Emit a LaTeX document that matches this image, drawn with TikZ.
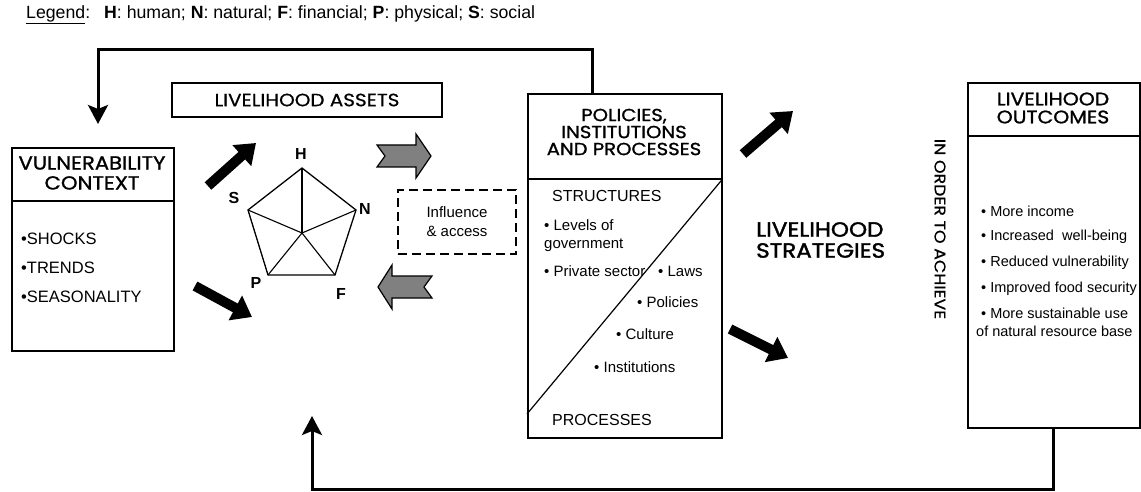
\documentclass[tikz,border=0pt]{standalone}
\usepackage{fontspec}
\setmainfont{Liberation Sans}
\newfontfamily\gothic{Poppins}
\newfontfamily\gothicdb[FakeBold=1.2, FakeStretch=1.12]{Poppins}
\newfontfamily\gothicmd[FakeBold=0.6, FakeStretch=1.12]{Poppins}
\newfontfamily\gothicbb[FakeBold=1.8, FakeStretch=1.12]{Poppins}
\usetikzlibrary{arrows.meta}
\begin{document}
\begin{tikzpicture}[x=1pt,y=-1pt,
  box/.style={draw, line width=1.6pt, inner sep=0pt, anchor=north west},
  rule/.style={line width=1.6pt},
  fb/.style={line width=3pt, line join=miter, -{Stealth[width=20pt,length=19pt,inset=4pt]}},
  blk/.style={line width=10pt, -{Triangle[width=27pt,length=19pt]}},
  garrow/.style={draw, line width=1.2pt, fill=gray, line join=miter},
  hd/.style={font=\gothicdb\fontsize{18}{18}\selectfont, align=center, inner sep=0pt},
  bl/.style={font=\fontsize{14.5}{18}\selectfont, anchor=west, inner sep=0pt},
  inb/.style={font=\fontsize{15}{18}\selectfont, anchor=west, inner sep=0pt},
  captxt/.style={font=\fontsize{16}{16}\selectfont, anchor=west, inner sep=0pt},
  lab/.style={font=\bfseries\fontsize{16}{16}\selectfont, inner sep=0pt},
]
\useasboundingbox (0,0) rectangle (1141,492);

% legend
\node[anchor=west, inner sep=0pt, font=\fontsize{17.7}{17.7}\selectfont] (leg) at (26,15)
  {\underline{Legend}:\hspace{14pt}\textbf{H}: human; \textbf{N}: natural; \textbf{F}: financial; \textbf{P}: physical; \textbf{S}: social};

% vulnerability context
\node[box, minimum width=162pt, minimum height=203pt] (vc) at (11,147) {};
\draw[rule] (vc.west |- 0,201) -- (vc.east |- 0,201);
\node[hd, font=\gothicdb\fontsize{18.9}{20}\selectfont] (vct) at (92,173) {VULNERABILITY\\CONTEXT};
\node[bl, font=\fontsize{16.5}{18}\selectfont] (v1) at (21,239) {•SHOCKS};
\node[bl, font=\fontsize{16.5}{18}\selectfont] (v2) at (21,268) {•TRENDS};
\node[bl, font=\fontsize{16.5}{18}\selectfont] (v3) at (21,297) {•SEASONALITY};

% livelihood assets
\node[draw, line width=1.6pt, minimum width=270pt, minimum height=34pt, inner sep=0pt,
  font=\gothicmd\fontsize{17.8}{17.8}\selectfont] (la) at (307,100) {LIVELIHOOD ASSETS};

% pentagon
\coordinate (pH) at (302,168);
\coordinate (pN) at (356,210);
\coordinate (pF) at (335,275);
\coordinate (pP) at (268,275);
\coordinate (pS) at (248,210);
\coordinate (pC) at (302,233);
\draw[line width=1.3pt, line join=miter] (pH) -- (pN) -- (pF) -- (pP) -- (pS) -- cycle;
\foreach \v in {pH,pN,pF,pP,pS} \draw[line width=1.1pt] (pC) -- (\v);
\node[lab] (lH) at (301,154) {H};
\node[lab] (lS) at (234,198) {S};
\node[lab] (lN) at (365,209) {N};
\node[lab] (lP) at (256,283) {P};
\node[lab] (lF) at (341,294) {F};

% black arrows
\coordinate (b1s) at (208,186); \coordinate (b1e) at (256,143);
\coordinate (b2s) at (195,286); \coordinate (b2e) at (252,317);
\coordinate (b3s) at (743,154); \coordinate (b3e) at (793,111);
\coordinate (b4s) at (730,329); \coordinate (b4e) at (788,358);
\draw[blk] (b1s) -- (b1e);
\draw[blk] (b2s) -- (b2e);
\draw[blk] (b3s) -- (b3e);
\draw[blk] (b4s) -- (b4e);

% grey arrows
\draw[garrow] (377,145) -- (416,145) -- (416,134) -- (431,156) -- (416,178) -- (416,167) -- (377,167) -- (385,156) -- cycle;
\draw[garrow] (378,287) -- (392,265) -- (392,276) -- (432,276) -- (424,287) -- (432,298) -- (392,298) -- (392,309) -- cycle;

% influence & access
\node[draw, dash pattern=on 9pt off 5pt, line width=1.6pt, minimum width=118pt, minimum height=64pt,
  align=center, inner sep=0pt, font=\fontsize{15}{19}\selectfont] (ia) at (457,222) {Influence\\\& access};

% policies, institutions and processes
\node[box, minimum width=194pt, minimum height=344pt] (pip) at (527,93) {};
\draw[rule] (pip.west |- 0,179) -- (pip.east |- 0,179);
\draw[line width=1.2pt] (pip.east |- 0,179) -- (pip.west |- 0,414);
\node[hd, font=\gothicdb\fontsize{17.5}{17}\selectfont] (pipt) at (624,132) {POLICIES,\\INSTITUTIONS\\AND PROCESSES};
\node[captxt] (st) at (552,196) {STRUCTURES};
\node[inb, align=left] (s1) at (544,236) {• Levels of\\government};
\node[inb] (s2) at (544,271) {• Private sector};
\node[inb] (s3) at (658,271) {• Laws};
\node[inb] (s4) at (637,302) {• Policies};
\node[inb] (s5) at (616,334) {• Culture};
\node[inb] (s6) at (594,367) {• Institutions};
\node[captxt] (pr) at (552,420) {PROCESSES};

% strategies
\node[anchor=west, align=left, inner sep=0pt, font=\gothicbb\fontsize{20.6}{21}\selectfont] (ls) at (756,240) {LIVELIHOOD\\STRATEGIES};
\node[rotate=-90, inner sep=0pt, font=\gothicmd\fontsize{15.5}{15.5}\selectfont] (io) at (940,229) {IN ORDER TO ACHIEVE};

% outcomes
\node[box, minimum width=172pt, minimum height=345pt] (poc) at (967,82) {};
\draw[rule] (poc.west |- 0,136) -- (poc.east |- 0,136);
\node[hd, font=\gothicdb\fontsize{18.2}{18}\selectfont] (poct) at (1053,108) {LIVELIHOOD\\OUTCOMES};
\node[bl] (o1) at (981,211) {• More income};
\node[bl] (o2) at (981,237) {• Increased\ \ well-being};
\node[bl] (o3) at (981,263) {• Reduced vulnerability};
\node[bl] (o4) at (981,289) {• Improved food security};
\node[bl, align=left] (o5) at (976,322) {\hspace*{5pt}• More sustainable use\\of natural resource base};

% feedback loops
\coordinate (fbt) at (98,124);
\draw[fb] ([xshift=65pt]pip.north west) -- ++(0,-43) -| (fbt);
\coordinate (fbb) at (312,416);
\draw[fb] (poc.south) -- ++(0,61) -| (fbb);
\end{tikzpicture}
\end{document}
